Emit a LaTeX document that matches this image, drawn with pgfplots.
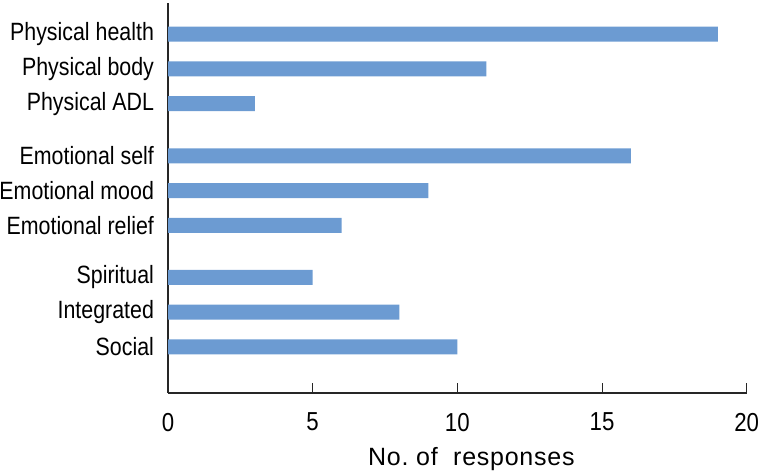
\documentclass[border=0pt]{standalone}
\usepackage{fontspec}
\setmainfont[FakeStretch=0.855]{Liberation Sans}
\newfontfamily\wideff[LetterSpace=3]{Liberation Sans}
\usepackage{pgfplots}
\pgfplotsset{compat=1.18}
\definecolor{barblue}{RGB}{108,155,210}
\begin{document}
\begin{tikzpicture}
\path[use as bounding box] (-84pt,-40.5pt) rectangle (295pt,196.5pt);
\begin{axis}[
  scale only axis, width=289.35pt, height=195pt,
  at={(0,0)}, anchor=south west,
  xbar, bar width=7.5pt,
  xmin=0, xmax=20, ymin=-1.33, ymax=9.9,
  axis x line*=bottom, axis y line*=left,
  axis line style={line width=0.6pt, black!85},
  xtick={0,5,10,15,20},
  tick align=inside, major tick length=5pt,
  tick style={black!85, line width=0.5pt},
  ytick={9,8,7,5.5,4.5,3.5,2,1,0},
  yticklabels={Physical health,Physical body,Physical ADL,Emotional self,Emotional mood,Emotional relief,Spiritual,Integrated,Social},
  y tick style={draw=none},
  yticklabel style={font=\fontsize{12.5}{13}\selectfont, xshift=-3.5pt},
  xticklabel style={font=\fontsize{13}{14}\selectfont, yshift=-6.5pt},
  /pgf/number format/assume math mode=true,
  xlabel={\wideff No.\ of\ \ responses},
  xlabel style={font=\fontsize{12.5}{14}\selectfont, xshift=7pt, yshift=-1pt},
]
\addplot[fill=barblue, draw=none] coordinates {
  (19,9) (11,8) (3,7) (16,5.5) (9,4.5) (6,3.5) (5,2) (8,1) (10,0)
};
\end{axis}
\end{tikzpicture}
\end{document}
